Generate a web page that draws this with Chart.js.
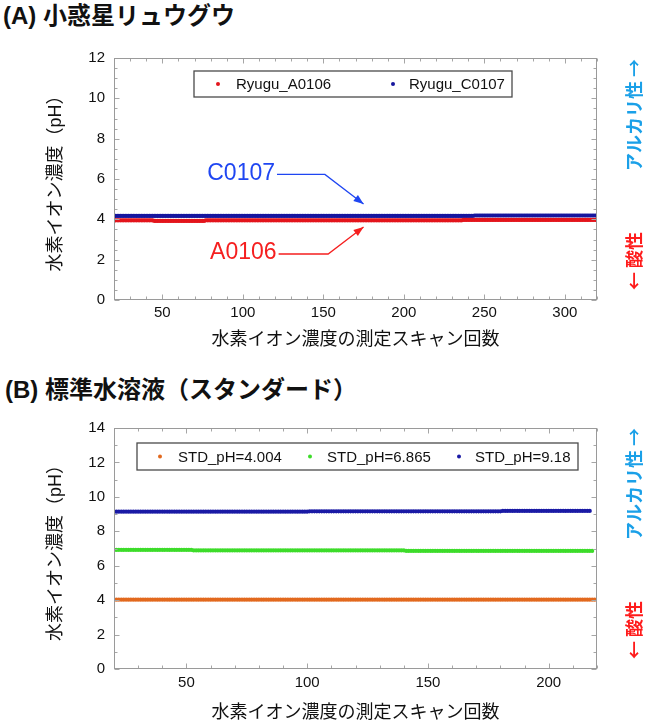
<!DOCTYPE html>
<html>
<head>
<meta charset="utf-8">
<script src="https://cdn.jsdelivr.net/npm/chart.js@4"></script>
<style>
    body {
        margin: 0;
        background: #fff;
        width: 645px;
        height: 725px;
        position: relative;
        overflow: hidden;
        font-family: "Liberation Sans", "Noto Sans CJK JP", sans-serif;
    }
    .heading {
        position: absolute;
        font-size: 24px;
        font-weight: bold;
        line-height: 24px;
        color: #111;
        white-space: nowrap;
    }
    canvas {
        position: absolute;
        left: 0;
    }
</style>
</head>
<body>
<div class="heading" style="left: 3px; top: 4px">(A) 小惑星リュウグウ</div>
<div class="heading" style="left: 5px; top: 378px">(B) 標準水溶液（スタンダード）</div>
<canvas id="chartA" width="645" height="320" style="top: 40px"></canvas>
<canvas id="chartB" width="645" height="320" style="top: 405px"></canvas>
<script>
const FONT = '"Liberation Sans", "Noto Sans CJK JP", sans-serif';
const CJK_FONT = '"Noto Sans CJK JP", sans-serif';

// pH readings per scan, as runs of [first scan, last scan, pH]
const ryuguA0106Runs = [[20, 44, 3.95], [45, 76, 3.92], [77, 236, 3.95], [237, 320, 3.97]];
const ryuguC0107Runs = [[20, 243, 4.17], [244, 320, 4.19]];
const ryuguLabels = ["Ryugu_A0106", "Ryugu_C0107"];
const ryuguXTicks = [50, 100, 150, 200, 250, 300];

const std4004Runs = [[20, 220, 4.03]];
const std6865Runs = [[20, 52, 6.92], [53, 140, 6.89], [141, 218, 6.86]];
const std918Runs = [[20, 100, 9.14], [101, 180, 9.16], [181, 217, 9.18]];
const stdLabels = ["STD_pH=4.004", "STD_pH=6.865", "STD_pH=9.18"];
const stdXTicks = [50, 100, 150, 200];

const xTitle = "水素イオン濃度の測定スキャン回数";
const yTitle = "水素イオン濃度（pH）";

function expandRuns(runs) {
    const pts = [];
    runs.forEach(([from, to, ph]) => {
        for (let scan = from; scan <= to; scan++) pts.push({ x: scan, y: ph });
    });
    return pts;
}

// gray box round the plot with inward ticks on all four sides
const framePlugin = {
    id: "frame",
    afterDraw(chart, args, opts) {
        const { ctx, chartArea: a, scales } = chart;
        const L = Math.round(a.left) + 0.5, R = Math.round(a.right) - 0.5;
        const T = Math.round(a.top) + 0.5, B = Math.round(a.bottom) - 0.5;
        ctx.save();
        ctx.strokeStyle = "#a6a6a6";
        ctx.lineWidth = 1;
        ctx.beginPath();
        const xs = scales.x;
        const nx = Math.round((xs.max - xs.min) / opts.xMinor);
        for (let i = 0; i <= nx; i++) {
            const v = xs.min + i * opts.xMinor;
            const len = v % opts.xMajor === 0 ? 5 : 3;
            const p = Math.round(xs.getPixelForValue(v)) + 0.5;
            ctx.moveTo(p, B); ctx.lineTo(p, B - len);
            ctx.moveTo(p, T); ctx.lineTo(p, T + len);
        }
        const ys = scales.y;
        const ny = Math.round((ys.max - ys.min) / opts.yMinor);
        for (let i = 0; i <= ny; i++) {
            const v = ys.min + i * opts.yMinor;
            const len = i % Math.round(2 / opts.yMinor) === 0 ? 5 : 3;
            const p = Math.round(ys.getPixelForValue(v)) + 0.5;
            ctx.moveTo(L, p); ctx.lineTo(L + len, p);
            ctx.moveTo(R, p); ctx.lineTo(R - len, p);
        }
        ctx.stroke();
        ctx.strokeStyle = "#9a9a9a";
        ctx.strokeRect(L, T, R - L, B - T);
        ctx.restore();
    },
};

// boxed legend inside the plot
const boxLegendPlugin = {
    id: "boxLegend",
    afterDraw(chart, args, opts) {
        const { ctx } = chart;
        const [bx, by, bw, bh] = opts.box;
        ctx.save();
        ctx.fillStyle = "#fff";
        ctx.fillRect(bx, by, bw, bh);
        ctx.strokeStyle = "#4a4a4a";
        ctx.lineWidth = 1.3;
        ctx.strokeRect(bx, by, bw, bh);
        const cy = by + bh / 2;
        ctx.font = "15px " + FONT;
        ctx.textBaseline = "middle";
        ctx.textAlign = "left";
        chart.data.datasets.forEach((ds, i) => {
            const [dotX, textX] = opts.items[i];
            ctx.fillStyle = ds.backgroundColor;
            ctx.beginPath();
            ctx.arc(dotX, cy, 2, 0, Math.PI * 2);
            ctx.fill();
            ctx.fillStyle = "#111";
            ctx.fillText(ds.label, textX, cy + 1);
        });
        ctx.restore();
    },
};

// vertical acid / alkaline labels at the right edge
const sideLabelPlugin = {
    id: "sideLabels",
    afterDraw(chart, args, opts) {
        const { ctx } = chart;
        ctx.save();
        ctx.font = "bold 18px " + CJK_FONT;
        ctx.textAlign = "center";
        ctx.textBaseline = "middle";
        opts.items.forEach((it) => {
            ctx.save();
            ctx.translate(opts.x, it.y);
            ctx.rotate(-Math.PI / 2);
            ctx.fillStyle = it.color;
            ctx.fillText(it.text, 0, 0);
            ctx.restore();
        });
        ctx.restore();
    },
};

// sample name with an elbow arrow pointing at its line
const calloutPlugin = {
    id: "callouts",
    afterDraw(chart, args, opts) {
        if (!opts.items) return;
        const { ctx, scales: { x, y } } = chart;
        ctx.save();
        opts.items.forEach((c) => {
            const tx = x.getPixelForValue(c.textX), ty = y.getPixelForValue(c.textY);
            const ex = x.getPixelForValue(c.elbowX), ey = y.getPixelForValue(c.elbowY);
            const px = x.getPixelForValue(c.tipX), py = y.getPixelForValue(c.tipY);
            ctx.font = "23px " + FONT;
            ctx.fillStyle = c.color;
            ctx.textAlign = "right";
            ctx.textBaseline = "middle";
            ctx.fillText(c.text, tx, ty);
            ctx.strokeStyle = c.color;
            ctx.lineWidth = 1.3;
            ctx.beginPath();
            ctx.moveTo(tx + 2, ey);
            ctx.lineTo(ex, ey);
            ctx.lineTo(px, py);
            ctx.stroke();
            const ang = Math.atan2(py - ey, px - ex);
            const len = 10, half = 3.8;
            ctx.beginPath();
            ctx.moveTo(px, py);
            ctx.lineTo(px - len * Math.cos(ang) + half * Math.sin(ang), py - len * Math.sin(ang) - half * Math.cos(ang));
            ctx.lineTo(px - len * Math.cos(ang) - half * Math.sin(ang), py - len * Math.sin(ang) + half * Math.cos(ang));
            ctx.closePath();
            ctx.fill();
        });
        ctx.restore();
    },
};

function makeChart(id, cfg) {
    return new Chart(document.getElementById(id), {
        type: "scatter",
        data: {
            datasets: cfg.series.map((s) => ({
                label: s.label,
                data: expandRuns(s.runs),
                backgroundColor: s.color,
                borderColor: s.color,
                pointRadius: 2.1,
                pointHoverRadius: 2.1,
                pointBorderWidth: 0,
            })),
        },
        options: {
            responsive: false,
            animation: false,
            devicePixelRatio: 1,
            events: [],
            layout: { padding: { top: cfg.top, right: 48, left: 0, bottom: 0 } },
            plugins: {
                legend: { display: false },
                tooltip: { enabled: false },
                frame: { xMinor: 10, xMajor: 50, yMinor: cfg.yMinor },
                boxLegend: cfg.legend,
                sideLabels: cfg.side,
                callouts: { items: cfg.callouts },
            },
            scales: {
                x: {
                    type: "linear",
                    min: cfg.xMin,
                    max: cfg.xMax,
                    grid: { display: false, drawTicks: false },
                    border: { display: false },
                    afterBuildTicks: (s) => {
                        s.ticks = cfg.xTicks.map((v) => ({ value: v }));
                    },
                    afterFit: (s) => {
                        s.height = cfg.xHeight;
                    },
                    ticks: {
                        color: "#111",
                        font: { size: 15, family: FONT },
                        padding: cfg.xTickPad,
                        maxRotation: 0,
                        autoSkip: false,
                    },
                    title: {
                        display: true,
                        text: xTitle,
                        color: "#111",
                        font: { size: 18, family: FONT },
                        padding: { top: 0, bottom: cfg.xTitlePad },
                    },
                },
                y: {
                    min: 0,
                    max: cfg.yMax,
                    grid: { display: false, drawTicks: false },
                    border: { display: false },
                    afterFit: (s) => {
                        s.width = 114;
                    },
                    ticks: {
                        stepSize: 2,
                        color: "#111",
                        font: { size: 15, family: FONT },
                        padding: 9,
                    },
                    title: {
                        display: true,
                        text: yTitle,
                        color: "#111",
                        font: { size: 18, family: FONT },
                        padding: { top: 45, bottom: 0 },
                    },
                },
            },
        },
        plugins: [framePlugin, boxLegendPlugin, sideLabelPlugin, calloutPlugin],
    });
}

makeChart("chartA", {
    top: 18,
    xHeight: 60,
    xTickPad: 4,
    xTitlePad: 9,
    xMin: 20,
    xMax: 320,
    yMax: 12,
    yMinor: 0.5,
    xTicks: ryuguXTicks,
    series: [
        { label: ryuguLabels[0], runs: ryuguA0106Runs, color: "#e3151c" },
        { label: ryuguLabels[1], runs: ryuguC0107Runs, color: "#16169e" },
    ],
    legend: { box: [194, 31, 318, 26], items: [[218, 236], [393, 409]] },
    side: {
        x: 634,
        items: [
            { text: "アルカリ性 →", color: "#1aa0e8", y: 75 },
            { text: "← 酸性", color: "#ff1c1c", y: 221 },
        ],
    },
    callouts: [
        { text: "C0107", color: "#1f46f2", textX: 120, textY: 6.28, elbowX: 151, elbowY: 6.23, tipX: 175, tipY: 4.76 },
        { text: "A0106", color: "#f51f1f", textX: 121, textY: 2.33, elbowX: 153, elbowY: 2.28, tipX: 175, tipY: 3.62 },
    ],
});

makeChart("chartB", {
    top: 23,
    xHeight: 56,
    xTickPad: 5,
    xTitlePad: 1,
    xMin: 20,
    xMax: 220,
    yMax: 14,
    yMinor: 1,
    xTicks: stdXTicks,
    series: [
        { label: stdLabels[0], runs: std4004Runs, color: "#e2691e" },
        { label: stdLabels[1], runs: std6865Runs, color: "#3ddc2a" },
        { label: stdLabels[2], runs: std918Runs, color: "#1a1aa5" },
    ],
    legend: { box: [137, 38, 441, 27], items: [[160, 178], [310, 327], [459, 475]] },
    side: {
        x: 634,
        items: [
            { text: "アルカリ性 →", color: "#1aa0e8", y: 79 },
            { text: "← 酸性", color: "#ff1c1c", y: 225 },
        ],
    },
    callouts: [],
});
</script>
</body>
</html>
